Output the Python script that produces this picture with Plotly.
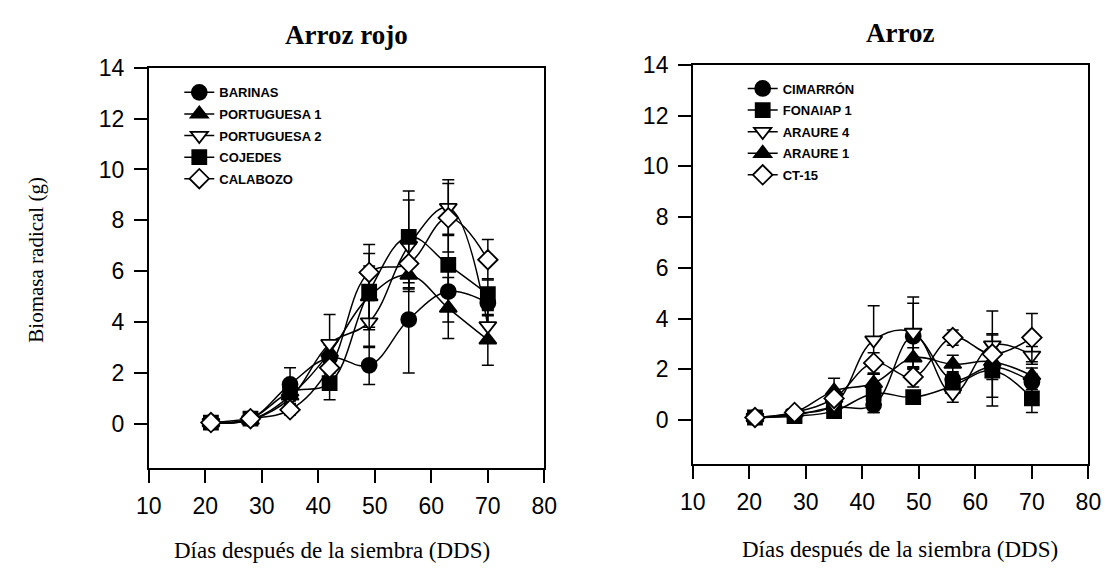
import plotly.graph_objects as go

# Days after sowing (DDS)
dds = [21, 28, 35, 42, 49, 56, 63, 70]

# Red rice biotypes: root biomass (g) and error
barinas = [0.05, 0.2, 1.55, 2.6, 2.3, 4.1, 5.2, 4.75]
barinas_err = [0, 0, 0.65, 0.5, 0.75, 2.1, 1.2, 0.5]
portuguesa1 = [0.05, 0.15, 1.1, 2.8, 5.0, 5.85, 4.55, 3.3]
portuguesa1_err = [0, 0, 0.3, 0.4, 1.2, 0.5, 1.2, 1.0]
portuguesa2 = [0.05, 0.15, 1.0, 3.15, 4.0, 7.0, 8.5, 3.85]
portuguesa2_err = [0, 0, 0.3, 1.15, 1.0, 1.8, 1.1, 0.6]
cojedes = [0.05, 0.2, 1.25, 1.6, 5.2, 7.35, 6.25, 5.1]
cojedes_err = [0, 0, 0.3, 0.65, 1.5, 1.8, 1.2, 0.6]
calabozo = [0.05, 0.2, 0.55, 2.2, 5.95, 6.3, 8.1, 6.45]
calabozo_err = [0, 0, 0.2, 0.4, 1.1, 1.0, 1.35, 0.8]

# Cultivated rice varieties: root biomass (g) and error
cimarron = [0.1, 0.2, 0.5, 0.6, 3.3, 1.6, 2.1, 1.5]
cimarron_err = [0, 0, 0.2, 0.3, 1.3, 0.3, 0.5, 0.3]
fonaiap1 = [0.1, 0.15, 0.35, 1.05, 0.9, 1.35, 1.95, 0.85]
fonaiap1_err = [0, 0, 0.2, 0.75, 0.2, 0.3, 1.4, 0.55]
araure4 = [0.1, 0.25, 0.6, 3.15, 3.45, 1.05, 2.95, 2.55]
araure4_err = [0, 0, 0.2, 1.35, 1.4, 0.35, 0.45, 0.35]
araure1 = [0.1, 0.3, 1.15, 1.45, 2.45, 2.2, 2.3, 1.75]
araure1_err = [0, 0, 0.5, 0.35, 0.4, 0.35, 0.5, 0.3]
ct15 = [0.1, 0.3, 0.85, 2.25, 1.7, 3.25, 2.6, 3.25]
ct15_err = [0, 0, 0.2, 0.4, 0.4, 0.3, 1.7, 0.95]

left_series = [
    ("BARINAS", barinas, barinas_err, "circle", "black"),
    ("PORTUGUESA 1", portuguesa1, portuguesa1_err, "triangle-up", "black"),
    ("PORTUGUESA 2", portuguesa2, portuguesa2_err, "triangle-down", "white"),
    ("COJEDES", cojedes, cojedes_err, "square", "black"),
    ("CALABOZO", calabozo, calabozo_err, "diamond", "white"),
]
right_series = [
    ("CIMARRÓN", cimarron, cimarron_err, "circle", "black"),
    ("FONAIAP 1", fonaiap1, fonaiap1_err, "square", "black"),
    ("ARAURE 4", araure4, araure4_err, "triangle-down", "white"),
    ("ARAURE 1", araure1, araure1_err, "triangle-up", "black"),
    ("CT-15", ct15, ct15_err, "diamond", "white"),
]

SIZES = {"circle": 15, "square": 14, "triangle-up": 15, "triangle-down": 15, "diamond": 15}

fig = go.Figure()


def add_series(series, xa, ya, legend):
    for i, (name, vals, err, sym, fill) in enumerate(series):
        fig.add_trace(go.Scatter(
            x=dds, y=vals, name=name, mode="lines+markers",
            xaxis=xa, yaxis=ya, legend=legend, legendgroup=f"{legend}{i}",
            line=dict(color="black", width=1.5, shape="spline", smoothing=1.1),
            marker=dict(symbol=sym, size=SIZES[sym], color=fill,
                        line=dict(color="black", width=1.8)),
            error_y=dict(type="data", array=err, visible=True,
                         color="black", thickness=1.5, width=6),
        ))


add_series(left_series, "x", "y", "legend")
add_series(right_series, "x2", "y2", "legend2")

tick_font = dict(family="Liberation Sans, Arial", size=23, color="black")
common_x = dict(range=[10, 80], tickvals=[10, 20, 30, 40, 50, 60, 70, 80],
                ticks="outside", ticklen=13, tickwidth=1.5, tickcolor="black",
                showline=True, linecolor="black", linewidth=1.5, mirror=True,
                showgrid=False, zeroline=False, tickfont=tick_font,
                ticklabelstandoff=3)
common_y = dict(range=[-1.75, 14], tickvals=[0, 2, 4, 6, 8, 10, 12, 14],
                ticks="outside", ticklen=13, tickwidth=1.5, tickcolor="black",
                showline=True, linecolor="black", linewidth=1.5, mirror=True,
                showgrid=False, zeroline=False, tickfont=tick_font,
                ticklabelstandoff=5)

legend_common = dict(bgcolor="rgba(0,0,0,0)", borderwidth=0,
                     xanchor="left", yanchor="top", tracegroupgap=1.7,
                     font=dict(family="Liberation Sans, Arial", size=13,
                               color="black", weight="bold"),
                     itemclick=False)

serif = "Liberation Serif, Times New Roman"
fig.update_layout(
    width=1120, height=568,
    margin=dict(l=0, r=0, t=0, b=0),
    paper_bgcolor="white", plot_bgcolor="white",
    xaxis=dict(domain=[0.1241, 0.4857], anchor="y", **common_x),
    yaxis=dict(domain=[0.1796, 0.9014], anchor="x", **common_y),
    xaxis2=dict(domain=[0.6214, 0.9830], anchor="y2", **common_x),
    yaxis2=dict(domain=[0.1866, 0.9067], anchor="x2", **common_y),
    legend=dict(x=0.152, y=0.884, **legend_common),
    legend2=dict(x=0.667, y=0.891, **legend_common),
    showlegend=True,
    annotations=[
        dict(text="<b>Arroz rojo</b>", x=341, y=23, showarrow=False,
             font=dict(family=serif, size=27, color="black")),
        dict(text="<b>Arroz</b>", x=908, y=20, showarrow=False,
             font=dict(family=serif, size=27, color="black")),
        dict(text="Días después de la siembra (DDS)", x=327, y=550,
             showarrow=False, font=dict(family=serif, size=23, color="black")),
        dict(text="Días después de la siembra (DDS)", x=908, y=549,
             showarrow=False, font=dict(family=serif, size=23, color="black")),
        dict(text="Biomasa radical (g)", x=24, y=252, textangle=-90,
             showarrow=False, font=dict(family=serif, size=21, color="black")),
    ],
)

# Annotation positions above are given in pixels; convert to paper fractions
for ann in fig.layout.annotations:
    ann.xref = "paper"
    ann.yref = "paper"
    ann.x = ann.x / 1120
    ann.y = 1 - ann.y / 568
    ann.xanchor = "center"
    ann.yanchor = "middle"

fig.write_html("out.html")
